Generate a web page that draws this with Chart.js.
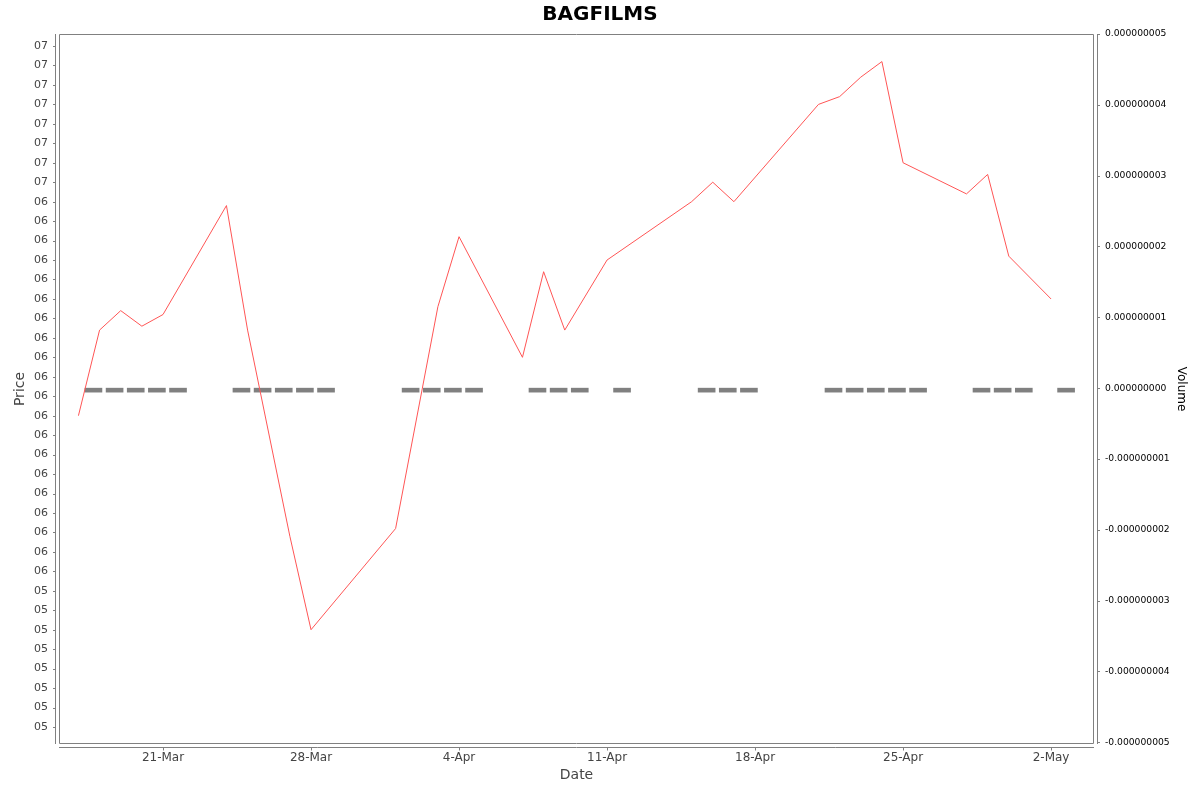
<!DOCTYPE html>
<html>
<head>
<meta charset="utf-8">
<title>BAGFILMS</title>
<script src="https://cdn.jsdelivr.net/npm/chart.js@4.4.1/dist/chart.umd.min.js"></script>
<style>
  html, body { margin: 0; padding: 0; background: #fff; }
  canvas { display: block; }
</style>
</head>
<body>
<canvas id="chart" width="1200" height="792"></canvas>
<script>
// --- Data ---
const priceDates = [
    '2025-03-17', '2025-03-18', '2025-03-19', '2025-03-20', '2025-03-21',
    '2025-03-24', '2025-03-25', '2025-03-27', '2025-03-28',
    '2025-04-01', '2025-04-03', '2025-04-04',
    '2025-04-07', '2025-04-08', '2025-04-09', '2025-04-11',
    '2025-04-15', '2025-04-16', '2025-04-17',
    '2025-04-21', '2025-04-22', '2025-04-23', '2025-04-24', '2025-04-25',
    '2025-04-28', '2025-04-29', '2025-04-30', '2025-05-02'
];
const priceValues = [
    6.40, 6.62, 6.67, 6.63, 6.66,
    6.94, 6.62, 6.09, 5.85,
    6.11, 6.68, 6.86,
    6.55, 6.77, 6.62, 6.80,
    6.95, 7.00, 6.95,
    7.20, 7.22, 7.27, 7.31, 7.05,
    6.97, 7.02, 6.81, 6.70
];

const volumeDates = [
    '2025-03-17', '2025-03-18', '2025-03-19', '2025-03-20', '2025-03-21',
    '2025-03-24', '2025-03-25', '2025-03-26', '2025-03-27', '2025-03-28',
    '2025-04-01', '2025-04-02', '2025-04-03', '2025-04-04',
    '2025-04-07', '2025-04-08', '2025-04-09', '2025-04-11',
    '2025-04-15', '2025-04-16', '2025-04-17',
    '2025-04-21', '2025-04-22', '2025-04-23', '2025-04-24', '2025-04-25',
    '2025-04-28', '2025-04-29', '2025-04-30', '2025-05-02'
];
const volumeValues = [
    0, 0, 0, 0, 0,
    0, 0, 0, 0, 0,
    0, 0, 0, 0,
    0, 0, 0, 0,
    0, 0, 0,
    0, 0, 0, 0, 0,
    0, 0, 0, 0
];

// tick positions
const dateTicks = ['2025-03-21', '2025-03-28', '2025-04-04', '2025-04-11', '2025-04-18', '2025-04-25', '2025-05-02'];
const priceTicks = [
    5.60, 5.65, 5.70, 5.75, 5.80, 5.85, 5.90, 5.95,
    6.00, 6.05, 6.10, 6.15, 6.20, 6.25, 6.30, 6.35, 6.40, 6.45,
    6.50, 6.55, 6.60, 6.65, 6.70, 6.75, 6.80, 6.85, 6.90, 6.95,
    7.00, 7.05, 7.10, 7.15, 7.20, 7.25, 7.30, 7.35
];
const volumeTicks = [-5e-9, -4e-9, -3e-9, -2e-9, -1e-9, 0, 1e-9, 2e-9, 3e-9, 4e-9, 5e-9];
const monthNames = ['Jan', 'Feb', 'Mar', 'Apr', 'May', 'Jun', 'Jul', 'Aug', 'Sep', 'Oct', 'Nov', 'Dec'];

// --- helpers ---
const FONT = "'DejaVu Sans', sans-serif";
const BAR_SHIFT = 0.71; // volume bars sit a bit to the right of the price points

function dayNum(s) {
    const [y, m, d] = s.split('-').map(Number);
    return Date.UTC(y, m - 1, d) / 86400000;
}

function dayLabel(v) {
    const dt = new Date(Math.round(v) * 86400000);
    return dt.getUTCDate() + '-' + monthNames[dt.getUTCMonth()];
}

const anchorDay = dayNum('2025-03-21');

// plot frame + axis lines drawn slightly apart from the plot, like the original
const framePlugin = {
    id: 'frame',
    afterDraw(chart) {
        const { ctx, chartArea: a, scales } = chart;
        ctx.save();
        ctx.strokeStyle = '#808080';
        ctx.lineWidth = 1;
        ctx.beginPath();
        ctx.rect(a.left + 0.5, a.top + 0.5, a.right - a.left - 1, a.bottom - a.top - 1);
        ctx.moveTo(a.left - 3.5, a.top); ctx.lineTo(a.left - 3.5, a.bottom);
        ctx.moveTo(a.right + 3.5, a.top); ctx.lineTo(a.right + 3.5, a.bottom);
        ctx.moveTo(a.left, a.bottom + 3.5); ctx.lineTo(a.right, a.bottom + 3.5);

        scales.y.ticks.forEach(t => {
            const y = Math.round(scales.y.getPixelForValue(t.value)) + 0.5;
            ctx.moveTo(a.left - 6, y); ctx.lineTo(a.left - 3.5, y);
        });
        scales.y2.ticks.forEach(t => {
            const y = Math.round(scales.y2.getPixelForValue(t.value)) + 0.5;
            ctx.moveTo(a.right + 3.5, y); ctx.lineTo(a.right + 6, y);
        });
        scales.x.ticks.forEach(t => {
            const x = Math.round(scales.x.getPixelForValue(t.value)) + 0.5;
            ctx.moveTo(x, a.bottom + 3.5); ctx.lineTo(x, a.bottom + 6.5);
        });
        ctx.stroke();
        ctx.restore();
    }
};

const ctx = document.getElementById('chart').getContext('2d');

new Chart(ctx, {
    data: {
        datasets: [
            {
                type: 'line',
                label: 'Price',
                data: priceDates.map((d, i) => ({ x: dayNum(d), y: priceValues[i] })),
                borderColor: '#ff5555',
                borderWidth: 1,
                pointRadius: 0,
                pointHoverRadius: 0,
                tension: 0,
                fill: false,
                yAxisID: 'y',
                order: 1
            },
            {
                type: 'bar',
                label: 'Volume',
                data: volumeDates.map((d, i) => ({ x: dayNum(d) + BAR_SHIFT, y: volumeValues[i] })),
                backgroundColor: '#808080',
                borderWidth: 0,
                barThickness: 17,
                minBarLength: 4,
                base: 1e-30, // keeps the zero-volume bar hanging below the zero line
                yAxisID: 'y2',
                order: 2
            }
        ]
    },
    options: {
        responsive: false,
        devicePixelRatio: 1,
        animation: false,
        events: [],
        layout: { padding: 0 },
        plugins: {
            legend: { display: false },
            tooltip: { enabled: false },
            title: {
                display: true,
                text: 'BAGFILMS',
                color: '#000',
                font: { family: FONT, size: 20, weight: 'bold' },
                padding: { top: 3, bottom: 7 }
            }
        },
        scales: {
            x: {
                type: 'linear',
                position: 'bottom',
                offset: false,
                min: anchorDay - 4.919,
                max: anchorDay + 44.03,
                grid: { display: false, drawTicks: false },
                border: { display: false },
                afterBuildTicks: scale => { scale.ticks = dateTicks.map(d => ({ value: dayNum(d) })); },
                afterFit: scale => { scale.height = 48; },
                ticks: {
                    autoSkip: false,
                    maxRotation: 0,
                    padding: 7,
                    color: '#444',
                    font: { family: FONT, size: 12 },
                    callback: v => dayLabel(v)
                },
                title: {
                    display: true,
                    text: 'Date',
                    color: '#444',
                    font: { family: FONT, size: 14 },
                    padding: { top: 0, bottom: 8 }
                }
            },
            y: {
                type: 'linear',
                position: 'left',
                min: 5.5563,
                max: 7.3809,
                grid: { display: false, drawTicks: false },
                border: { display: false },
                afterBuildTicks: scale => { scale.ticks = priceTicks.map(v => ({ value: v })); },
                afterFit: scale => { scale.width = 59; },
                ticks: {
                    autoSkip: false,
                    padding: 11,
                    color: '#444',
                    font: { family: FONT, size: 11 },
                    callback: v => '0' + Math.floor(v + 1e-6)
                },
                title: {
                    display: true,
                    text: 'Price',
                    color: '#444',
                    font: { family: FONT, size: 14 },
                    padding: { top: 12, bottom: 0 }
                }
            },
            y2: {
                type: 'linear',
                position: 'right',
                min: -5.024e-9,
                max: 5e-9,
                grid: { display: false, drawTicks: false },
                border: { display: false },
                afterBuildTicks: scale => { scale.ticks = volumeTicks.map(v => ({ value: v })); },
                afterFit: scale => { scale.width = 106; },
                ticks: {
                    autoSkip: false,
                    padding: 11,
                    color: '#000',
                    font: { family: FONT, size: 9.2 },
                    callback: v => (Math.abs(v) < 1e-15 ? 0 : v).toFixed(9)
                },
                title: {
                    display: true,
                    text: 'Volume',
                    color: '#000',
                    font: { family: FONT, size: 12 },
                    padding: { top: 12, bottom: 0 }
                }
            }
        }
    },
    plugins: [framePlugin]
});
</script>
</body>
</html>
